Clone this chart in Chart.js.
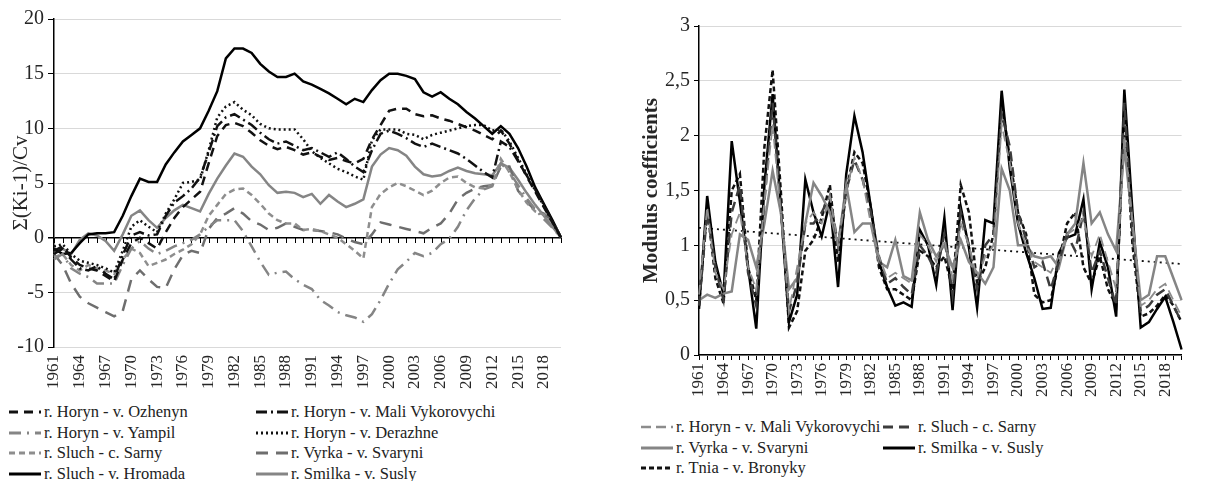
<!DOCTYPE html>
<html>
<head>
<meta charset="utf-8">
<script src="https://cdn.jsdelivr.net/npm/chart.js@4.4.0/dist/chart.umd.min.js"></script>
<style>
  body { margin: 0; width: 1205px; height: 481px; background: #fff; position: relative; overflow: hidden;
         font-family: "Liberation Serif", "Times New Roman", serif; color: #222; }
  #leftBox { position: absolute; left: 0; top: 0; width: 600px; height: 400px; }
  #rightBox { position: absolute; left: 600px; top: 0; width: 605px; height: 410px; }
  .legend { position: absolute; display: grid; font-size: 16.5px; line-height: 20.5px; }
  .legend div { white-space: nowrap; display: flex; align-items: center; }
  .legend svg { margin-right: 2px; flex: none; }
  #leftLegend { left: 8px; top: 402px; grid-template-columns: 247px auto; }
  #rightLegend { left: 640px; top: 417px; grid-template-columns: 242px auto; }
</style>
</head>
<body>
<div id="leftBox"><canvas id="leftChart"></canvas></div>
<div id="rightBox"><canvas id="rightChart"></canvas></div>
<div id="leftLegend" class="legend"></div>
<div id="rightLegend" class="legend"></div>
<script>
// years on both x axes
const years = [1961, 1962, 1963, 1964, 1965, 1966, 1967, 1968, 1969, 1970,
  1971, 1972, 1973, 1974, 1975, 1976, 1977, 1978, 1979, 1980,
  1981, 1982, 1983, 1984, 1985, 1986, 1987, 1988, 1989, 1990,
  1991, 1992, 1993, 1994, 1995, 1996, 1997, 1998, 1999, 2000,
  2001, 2002, 2003, 2004, 2005, 2006, 2007, 2008, 2009, 2010,
  2011, 2012, 2013, 2014, 2015, 2016, 2017, 2018, 2019, 2020];

// left chart: cumulative curves
const ozhenyn = [-1.2, -0.8, -1.8, -2.5, -2.8, -3.0, -3.5, -4.0, -2.0, -0.5,
  0.0, -0.5, -1.0, 0.5, 1.8, 2.8, 3.5, 4.2, 6.8, 9.3,
  10.3, 10.5, 10.2, 9.6, 8.9, 8.4, 8.1, 8.3, 8.0, 7.6,
  7.8, 7.4, 7.1, 7.3, 7.0, 6.8, 7.2, 9.0, 10.3, 11.6,
  11.8, 11.8, 11.3, 11.1, 11.2, 10.9, 10.7, 10.4, 10.1, 9.8,
  9.4, 9.0, 9.8, 8.6, 7.1, 5.6, 4.2, 2.8, 1.4, 0];
const maliVyk = [-1.5, -1.0, -2.0, -2.8, -3.0, -2.6, -3.3, -3.8, -1.6, 0.2,
  0.5, 0.2, 0.3, 2.0, 3.2, 3.8, 4.5, 5.5, 7.8, 10.2,
  11.0, 11.3, 10.8, 10.3, 9.6, 9.0, 8.6, 8.8, 8.4, 8.0,
  8.2, 7.8, 7.4, 7.8, 7.2, 6.5, 6.0, 8.0, 9.5, 9.8,
  9.5, 9.1, 8.6, 8.3, 8.6, 8.3, 8.0, 7.7, 7.2, 6.6,
  6.0, 5.5, 8.8, 8.3, 7.0, 5.7, 4.4, 3.0, 1.5, 0];
const yampil = [-2.0, -1.5, -2.8, -3.3, -3.6, -4.2, -4.2, -4.2, -2.5, -1.0,
  -0.3, -1.0, -1.5, -1.2, -0.8, -0.5, -0.2, 0.3, 1.0, 1.6,
  1.6, 1.6, 0.6, -0.8, -2.2, -3.4, -3.2, -3.1, -3.8, -4.3,
  -4.7, -5.7, -6.2, -6.8, -7.1, -7.3, -7.7, -7.0, -5.7, -4.2,
  -2.9, -2.2, -1.4, -1.7, -1.4, -0.6, -0.1, 1.0, 2.5, 3.6,
  4.4, 4.7, 6.8, 6.0, 4.8, 3.6, 2.6, 1.7, 0.9, 0];
const derazhne = [-0.8, -0.6, -1.5, -2.1, -2.3, -2.5, -2.8, -3.2, -1.2, 1.0,
  1.6, 1.0, 0.5, 2.2, 3.5, 5.0, 5.1, 5.3, 8.0, 11.0,
  12.0, 12.4, 11.7, 11.2, 10.4, 10.0, 9.9, 9.9, 9.9, 9.0,
  7.9, 7.3, 6.8, 6.3, 6.0, 5.6, 5.3, 8.9, 9.9, 9.9,
  9.9, 9.5, 9.4, 9.0, 9.4, 9.6, 9.8, 10.0, 10.2, 10.3,
  10.3, 9.8, 9.9, 8.8, 7.3, 5.8, 4.3, 2.9, 1.4, 0];
const sarny = [-1.8, -1.5, -2.5, -3.0, -2.5, -2.8, -3.0, -3.3, -2.0, -1.0,
  -1.4, -2.6, -2.3, -2.0, -1.5, -1.1, -0.6, 0.3, 2.0, 3.0,
  4.0, 4.4, 4.5, 3.9, 3.1, 2.2, 1.6, 1.3, 1.3, 0.7,
  0.8, 0.6, 0.3, 0.0, -0.6, -1.2, -1.9, 2.8, 4.0, 4.6,
  5.0, 4.7, 4.3, 3.9, 4.3, 5.0, 5.5, 5.6, 5.0, 4.6,
  4.5, 4.8, 7.2, 6.0, 4.4, 3.2, 2.4, 2.1, 1.4, 0];
const vyrka = [-1.5, -2.5, -4.2, -5.4, -6.0, -6.4, -6.8, -7.2, -6.7, -3.8,
  -3.0, -3.8, -4.5, -4.6, -2.9, -1.6, -1.2, -1.4, 0.8, 1.8,
  2.2, 2.7, 2.2, 1.5, 1.2, 0.7, 0.9, 1.3, 1.0, 0.7,
  0.7, 0.6, 0.5, 0.3, -0.1, -0.4, -0.6, 0.3, 1.4, 1.2,
  1.0, 0.8, 0.6, 0.4, 0.9, 1.3, 2.2, 3.5, 4.1, 4.5,
  4.7, 4.8, 6.5, 6.5, 4.3, 3.3, 2.5, 2.2, 1.5, 0];
const hromada = [-1.0, -1.5, -1.4, -0.5, 0.3, 0.4, 0.4, 0.5, 2.0, 3.8,
  5.4, 5.1, 5.1, 6.7, 7.8, 8.8, 9.4, 10.0, 11.6, 13.4,
  16.4, 17.3, 17.3, 16.9, 15.9, 15.2, 14.7, 14.7, 15.0, 14.3,
  14.0, 13.6, 13.2, 12.7, 12.2, 12.7, 12.4, 13.5, 14.4, 15.0,
  15.0, 14.8, 14.5, 13.3, 12.9, 13.3, 12.7, 12.2, 11.5, 10.9,
  10.2, 9.5, 10.2, 9.5, 8.2, 6.5, 4.6, 3.1, 1.6, 0];
const smilkaSum = [-1.4, -1.0, -1.5, -0.2, 0.4, 0.2, -0.3, -1.2, 0.3, 2.0,
  2.5, 1.6, 0.9, 1.8, 2.5, 3.0, 2.7, 2.4, 4.0, 5.4,
  6.6, 7.7, 7.4, 6.5, 5.8, 4.8, 4.1, 4.2, 4.1, 3.7,
  4.0, 3.1, 3.9, 3.3, 2.8, 3.1, 3.5, 6.5, 7.6, 8.2,
  8.0, 7.5, 6.5, 5.8, 5.6, 5.7, 6.1, 6.4, 6.1, 5.9,
  5.8, 5.7, 6.8, 6.4, 5.3, 4.1, 3.0, 2.0, 1.0, 0];

// right chart: modulus coefficients
const kMali = [0.55, 1.35, 0.75, 0.6, 1.1, 1.3, 0.8, 0.6, 1.4, 2.1,
  1.3, 0.4, 0.8, 1.2, 1.3, 1.2, 1.45, 1.0, 1.5, 1.8,
  1.6, 1.2, 0.9, 0.7, 0.75, 0.7, 0.65, 1.1, 1.0, 0.85,
  1.05, 0.7, 1.2, 1.0, 0.7, 0.9, 1.0, 2.1, 1.75, 1.2,
  1.0, 0.85, 0.8, 0.75, 0.9, 1.1, 1.15, 1.25, 0.9, 1.1,
  0.85, 0.6, 2.0, 1.2, 0.45, 0.5, 0.6, 0.65, 0.5, 0.35];
const kSarny = [0.45, 1.3, 0.8, 0.5, 1.3, 1.55, 0.75, 0.45, 1.4, 2.3,
  1.33, 0.4, 0.65, 1.2, 1.2, 1.3, 1.45, 1.0, 1.5, 1.78,
  1.6, 1.3, 0.9, 0.65, 0.7, 0.62, 0.55, 1.0, 0.9, 0.75,
  1.1, 0.55, 1.3, 1.0, 0.6, 1.0, 1.1, 2.2, 1.9, 1.3,
  1.05, 0.8, 0.85, 0.6, 0.85, 1.1, 0.95, 1.3, 0.75, 0.95,
  0.7, 0.45, 2.3, 1.1, 0.4, 0.45, 0.55, 0.6, 0.45, 0.3];
const kVyrka = [0.5, 0.55, 0.52, 0.56, 0.58, 1.1, 1.05, 0.8, 1.2, 1.68,
  1.3, 0.6, 0.7, 1.2, 1.57, 1.45, 1.3, 1.0, 1.55, 1.12,
  1.2, 1.2, 0.85, 0.8, 1.05, 0.72, 0.68, 1.3, 1.05, 0.9,
  1.0, 0.8, 1.05, 0.85, 0.75, 0.65, 0.8, 1.7, 1.5, 1.0,
  1.0, 0.9, 0.88, 0.9, 0.8, 1.1, 1.2, 1.75, 1.2, 1.3,
  1.1, 0.95, 1.9, 1.2, 0.5, 0.55, 0.9, 0.9, 0.7, 0.5];
const kSmilka = [0.42, 1.45, 0.85, 0.55, 1.95, 1.4, 0.8, 0.24, 1.55, 2.38,
  1.35, 0.3, 0.55, 1.6, 1.3, 1.08, 1.4, 0.62, 1.65, 2.18,
  1.85, 1.35, 0.85, 0.62, 0.45, 0.48, 0.44, 1.14, 1.0, 0.64,
  1.25, 0.41, 1.35, 0.98, 0.43, 1.23, 1.2, 2.41, 1.7, 1.2,
  0.93, 0.7, 0.42, 0.43, 0.93, 1.07, 1.1, 1.42, 0.6, 1.03,
  0.8, 0.35, 2.42, 1.3, 0.25, 0.3, 0.42, 0.53, 0.3, 0.05];
const kTnia = [0.45, 1.35, 0.7, 0.47, 1.5, 1.65, 0.8, 0.5, 1.9, 2.6,
  1.5, 0.25, 0.4, 0.95, 1.05, 1.25, 1.55, 0.85, 1.5, 1.85,
  1.75, 1.35, 0.8, 0.6, 0.6, 0.55, 0.5, 0.95, 0.9, 0.8,
  0.9, 0.6, 1.55, 1.3, 0.65, 0.8, 1.1, 2.3, 1.8, 1.3,
  1.1, 0.55, 0.48, 0.5, 0.85, 1.2, 1.3, 0.8, 0.65, 0.9,
  0.6, 0.45, 2.2, 1.0, 0.35, 0.38, 0.45, 0.55, 0.45, 0.3];
// dotted linear trend, value at first and last year
const trendEnds = [1.16, 0.83];

Chart.defaults.font.family = '"Liberation Serif", "Times New Roman", serif';
Chart.defaults.color = '#262626';
Chart.defaults.animation = false;

const GRID = '#d9d9d9';

function line(label, data, color, width, dash) {
  return { label: label, data: data, borderColor: color, borderWidth: width,
           borderDash: dash || [], pointRadius: 0, tension: 0, fill: false };
}

function everyThird(val, idx) {
  return idx % 3 === 0 ? this.getLabelForValue(val) : '';
}

// small tick marks on the zero line of the left chart
const zeroTicks = {
  id: 'zeroTicks',
  beforeDatasetsDraw(chart) {
    const xs = chart.scales.x, ys = chart.scales.y;
    const y0 = Math.round(ys.getPixelForValue(0));
    const ctx = chart.ctx;
    ctx.save();
    ctx.strokeStyle = '#000';
    ctx.lineWidth = 1;
    ctx.beginPath();
    for (let i = 0; i < xs.ticks.length; i++) {
      const px = Math.round(xs.getPixelForTick(i)) + 0.5;
      ctx.moveTo(px, y0);
      ctx.lineTo(px, y0 + 5);
    }
    ctx.stroke();
    ctx.restore();
  }
};

const leftChart = new Chart(document.getElementById('leftChart'), {
  type: 'line',
  data: {
    labels: years,
    datasets: [
      line('r. Horyn - v. Ozhenyn', ozhenyn, '#111', 2.5, [9, 6]),
      line('r. Horyn - v. Mali Vykorovychi', maliVyk, '#111', 2.5, [11, 4, 2, 4]),
      line('r. Horyn - v. Yampil', yampil, '#858585', 2.5, [12, 6, 2, 6]),
      line('r. Horyn - v. Derazhne', derazhne, '#111', 2.5, [2, 3]),
      line('r. Sluch - c. Sarny', sarny, '#8e8e8e', 2.5, [6, 4]),
      line('r. Vyrka - v. Svaryni', vyrka, '#6e6e6e', 2.5, [12, 8]),
      line('r. Sluch - v. Hromada', hromada, '#000', 2.5),
      line('r. Smilka - v. Susly', smilkaSum, '#858585', 2.5)
    ]
  },
  options: {
    responsive: true,
    maintainAspectRatio: false,
    devicePixelRatio: 1,
    layout: { padding: { top: 19, right: 39, left: 0, bottom: 0 } },
    plugins: { legend: { display: false }, tooltip: { enabled: false } },
    scales: {
      x: {
        grid: { display: false, drawTicks: false },
        border: { display: false },
        ticks: { autoSkip: false, minRotation: 90, maxRotation: 90, padding: 8,
                 font: { size: 17 }, callback: everyThird },
        afterFit(scale) { scale.height = 53; }
      },
      y: {
        min: -10, max: 20,
        ticks: { stepSize: 5, padding: 4, font: { size: 20 } },
        grid: {
          color: ctx => ctx.tick && ctx.tick.value === 0 ? '#000' : GRID,
          lineWidth: ctx => ctx.tick && ctx.tick.value === 0 ? 1.5 : 1,
          tickColor: '#000', tickLength: 6
        },
        border: { color: '#000', width: 1.5 },
        title: { display: true, text: 'Σ(Ki-1)/Cv', font: { size: 21 }, padding: { top: 9, bottom: 0 } },
        afterFit(scale) { scale.width = 54; }
      }
    }
  },
  plugins: [zeroTicks]
});

const rightChart = new Chart(document.getElementById('rightChart'), {
  type: 'line',
  data: {
    labels: years,
    datasets: [
      line('r. Horyn - v. Mali Vykorovychi', kMali, '#8c8c8c', 1.8, [10, 5]),
      line('r. Sluch - c. Sarny', kSarny, '#3c3c3c', 2.5, [10, 6]),
      line('r. Vyrka - v. Svaryni', kVyrka, '#858585', 2.5),
      line('r. Smilka - v. Susly', kSmilka, '#000', 2.5),
      line('r. Tnia - v. Bronyky', kTnia, '#111', 2.5, [5, 3]),
      Object.assign(line('trend', years.map((y, i) => i === 0 ? trendEnds[0] : (i === years.length - 1 ? trendEnds[1] : null)),
        '#111', 1.8, [2, 4]), { spanGaps: true })
    ]
  },
  options: {
    responsive: true,
    maintainAspectRatio: false,
    devicePixelRatio: 1,
    layout: { padding: { top: 26, right: 2, left: 0, bottom: 0 } },
    plugins: { legend: { display: false }, tooltip: { enabled: false } },
    scales: {
      x: {
        grid: { drawOnChartArea: false, drawTicks: true, tickLength: 5, color: '#000' },
        border: { color: '#000', width: 1.5 },
        ticks: { autoSkip: false, minRotation: 90, maxRotation: 90, padding: 3,
                 font: { size: 17 }, callback: everyThird },
        afterFit(scale) { scale.height = 55; }
      },
      y: {
        min: 0, max: 3,
        ticks: { stepSize: 0.5, padding: 4, font: { size: 20 },
                 callback: v => String(v).replace('.', ',') },
        grid: { color: GRID, lineWidth: 1, tickColor: '#000', tickLength: 5 },
        border: { color: '#000', width: 1.5 },
        title: { display: true, text: 'Modulus coefficients', font: { size: 21, weight: 'bold' },
                 padding: { top: 39, bottom: 0 } },
        afterFit(scale) { scale.width = 99; }
      }
    }
  }
});

// html legends built from the datasets
function buildLegend(chart, id) {
  const box = document.getElementById(id);
  chart.data.datasets.forEach(ds => {
    if (ds.label === 'trend') return;
    const item = document.createElement('div');
    const dash = ds.borderDash && ds.borderDash.length ? ds.borderDash.join(' ') : 'none';
    item.innerHTML = '<svg width="34" height="12"><line x1="1" y1="6" x2="33" y2="6" stroke="' +
      ds.borderColor + '" stroke-width="' + (ds.borderWidth + 0.5) + '" stroke-dasharray="' + dash +
      '"/></svg><span>' + ds.label + '</span>';
    box.appendChild(item);
  });
}
buildLegend(leftChart, 'leftLegend');
buildLegend(rightChart, 'rightLegend');
</script>
</body>
</html>
